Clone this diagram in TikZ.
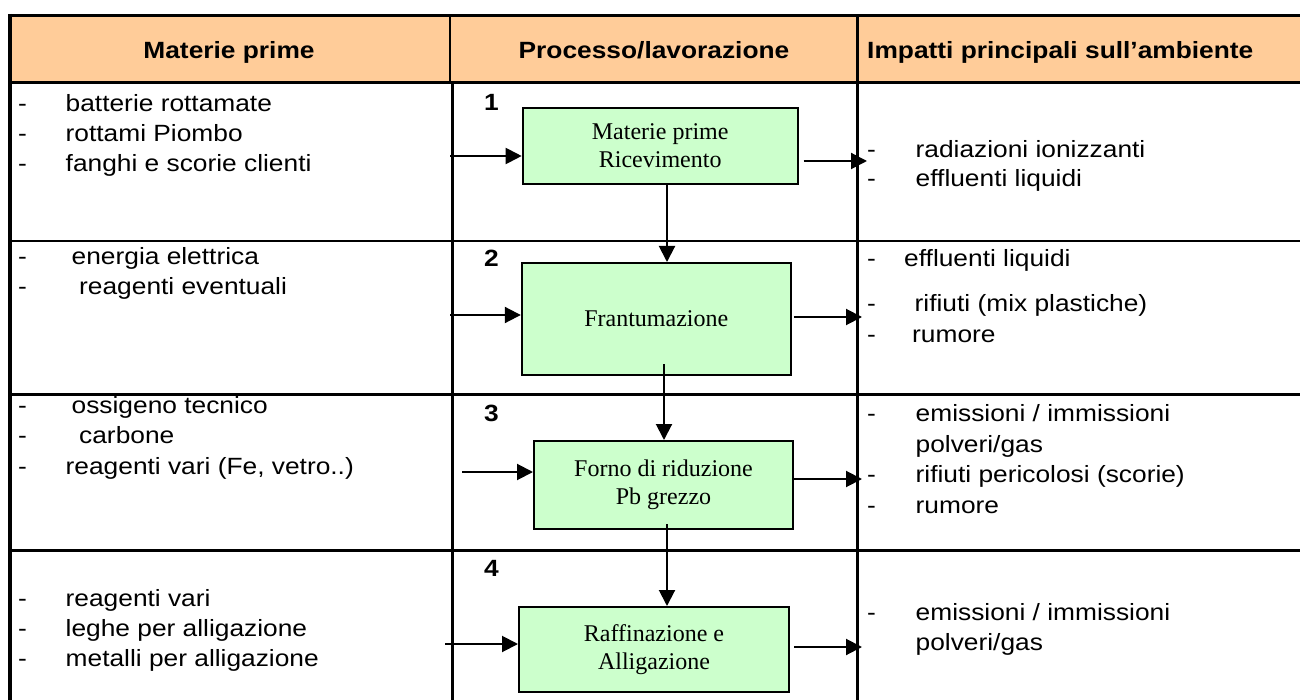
\documentclass[tikz,border=0pt]{standalone}
\usepackage{fontspec}
\usetikzlibrary{arrows.meta}
\newfontfamily\tabsans[FakeStretch=1.12]{Liberation Sans}
\newfontfamily\boxserif{Liberation Serif}
\definecolor{headfill}{HTML}{FFCC99}
\definecolor{stepfill}{HTML}{CCFFCC}
% one list line: name, dash x, text x, baseline y, text
\newcommand\lstline[5]{%
  \node[txt] (#1-d) at (#2,#4) {-};
  \node[txt] (#1) at (#3,#4) {#5};}
\begin{document}
\begin{tikzpicture}[x=1pt,y=-1pt,
  txt/.style={anchor=base west, inner sep=0pt, font=\tabsans\fontsize{23.5}{28}\selectfont},
  head/.style={anchor=base, inner sep=0pt, font=\tabsans\bfseries\fontsize{23.5}{28}\selectfont},
  num/.style={anchor=base west, inner sep=0pt, font=\tabsans\bfseries\fontsize{23.5}{28}\selectfont},
  stepbox/.style={draw=black, line width=2pt, fill=stepfill, align=center,
    inner sep=0pt, font=\boxserif\fontsize{24}{28}\selectfont},
  flow/.style={line width=2pt, -{Triangle[length=16pt,width=16pt]}},
  rule/.style={line width=2.2pt},
]
\useasboundingbox (0,0) rectangle (1300,700);

% header band
\fill[headfill] (11,16) rectangle (1300,82);

% table rules
\draw[line width=3.2pt] (8,15.5) -- (1300,15.5);
\draw[line width=3.2pt] (8,82.5) -- (1300,82.5);
\draw[line width=4pt] (9.5,14) -- (9.5,700);
\draw[rule] (450,16) -- (450,82);
\draw[rule] (452.5,83) -- (452.5,700);
\draw[rule] (857.5,16) -- (857.5,700);
\draw[rule] (8,241) -- (1300,241);
\draw[rule] (8,394.5) -- (1300,394.5);
\draw[rule] (8,550.5) -- (1300,550.5);

% column headings
\node[head] (h1) at (229,59) {Materie prime};
\node[head] (h2) at (654,59) {Processo/lavorazione};
\node[head, anchor=base west] (h3) at (867,59) {Impatti principali sull’ambiente};

% step numbers
\node[num] (n1) at (484,111) {1};
\node[num] (n2) at (484,266.5) {2};
\node[num] (n3) at (484,421.5) {3};
\node[num] (n4) at (484,576) {4};

% process steps
\node[stepbox, minimum width=275pt, minimum height=76pt] (b1) at (660.2,146) {Materie prime\\Ricevimento};
\node[stepbox, minimum width=269pt, minimum height=112pt] (b2) at (656.3,319) {Frantumazione};
\node[stepbox, minimum width=259pt, minimum height=88pt] (b3) at (663.5,485) {Forno di riduzione\\Pb grezzo};
\node[stepbox, minimum width=270pt, minimum height=85pt] (b4) at (654,649.5) {Raffinazione e\\Alligazione};

% raw materials
\lstline{m11}{18}{65.5}{111.7}{batterie rottamate}
\lstline{m12}{18}{65.5}{141.7}{rottami Piombo}
\lstline{m13}{18}{65.5}{171.7}{fanghi e scorie clienti}
\lstline{m21}{18}{71.5}{265}{energia elettrica}
\lstline{m22}{18}{79}{295}{reagenti eventuali}
\lstline{m31}{18}{71.5}{413}{ossigeno tecnico}
\lstline{m32}{18}{79}{443}{carbone}
\lstline{m33}{18}{65.5}{474}{reagenti vari (Fe, vetro..)}
\lstline{m41}{18}{65.5}{606}{reagenti vari}
\lstline{m42}{18}{65.5}{636}{leghe per alligazione}
\lstline{m43}{18}{65.5}{666}{metalli per alligazione}

% environmental impacts
\lstline{e11}{867}{915.5}{157.5}{radiazioni ionizzanti}
\lstline{e12}{867}{915.5}{186.5}{effluenti liquidi}
\lstline{e21}{867}{904}{266.5}{effluenti liquidi}
\lstline{e22}{867}{914.5}{311.5}{rifiuti (mix plastiche)}
\lstline{e23}{867}{912}{342}{rumore}
\lstline{e31}{867}{915.5}{421}{emissioni / immissioni}
\node[txt] (e32) at (915.5,452) {polveri/gas};
\lstline{e33}{867}{915.5}{482.5}{rifiuti pericolosi (scorie)}
\lstline{e34}{867}{915.5}{513}{rumore}
\lstline{e41}{867}{915.5}{620}{emissioni / immissioni}
\node[txt] (e42) at (915.5,650) {polveri/gas};

% inputs
\coordinate (i1) at (450,156);
\coordinate (i2) at (450,315);
\coordinate (i3) at (462,472);
\coordinate (i4) at (445,644);
\draw[flow] (i1) -- (i1 -| b1.west);
\draw[flow] (i2) -- (i2 -| b2.west);
\draw[flow] (i3) -- (i3 -| b3.west);
\draw[flow] (i4) -- (i4 -| b4.west);

% outputs
\coordinate (o1) at (867,161);
\coordinate (o2) at (862,317);
\coordinate (o3) at (862,479);
\coordinate (o4) at (862,647);
\draw[flow, shorten <=5pt] (b1.east |- o1) -- (o1);
\draw[flow, shorten <=2pt] (b2.east |- o2) -- (o2);
\draw[flow] (b3.east |- o3) -- (o3);
\draw[flow, shorten <=4pt] (b4.east |- o4) -- (o4);

% flow between steps
\coordinate (v1) at (667,0);
\coordinate (v2) at (664,0);
\coordinate (v3) at (667,0);
\draw[flow] (b1.south -| v1) -- (b2.north -| v1);
\draw[flow, shorten <=-12pt] (b2.south -| v2) -- (b3.north -| v2);
\draw[flow, shorten <=-6pt] (b3.south -| v3) -- (b4.north -| v3);
\end{tikzpicture}
\end{document}
